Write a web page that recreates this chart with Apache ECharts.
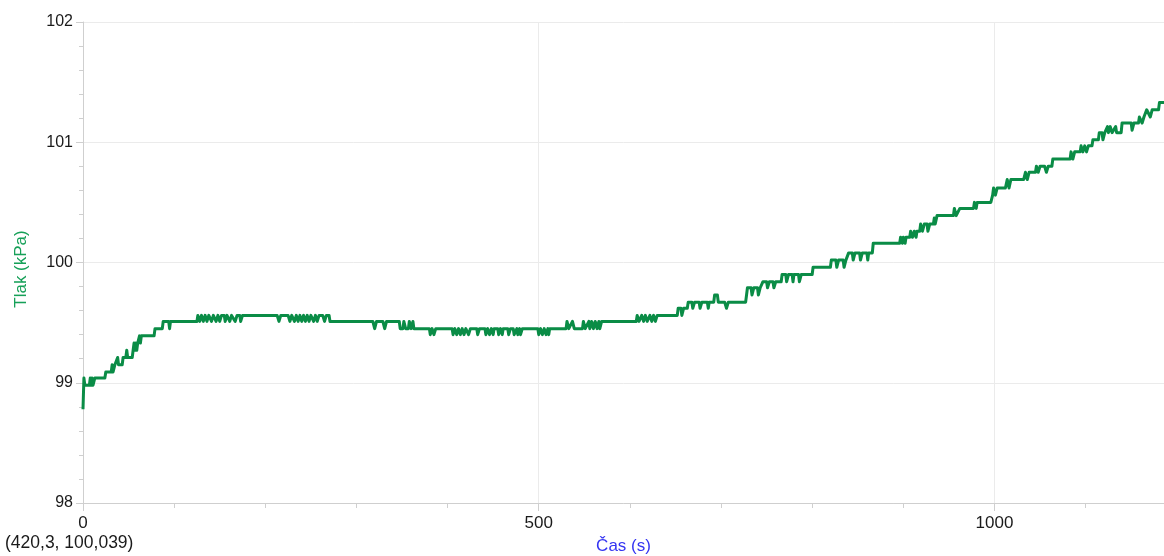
<!DOCTYPE html>
<html>
<head>
<meta charset="utf-8">
<script src="https://cdn.jsdelivr.net/npm/echarts@6/dist/echarts.min.js"></script>
<style>
  html, body { margin: 0; padding: 0; background: #fff; }
  #chart { width: 1164px; height: 556px; }
</style>
</head>
<body>
<div id="chart"></div>
<script>
// Pressure log: [time (s), pressure (kPa)]
const pressureLog = [
  [0, 98.78],[1, 99.04],[2, 98.98],[7, 98.98],[8, 99.04],[9, 98.98],[10, 99.04],[11, 98.98],[13, 99.04],[24, 99.04],
  [25, 99.09],[31, 99.09],[32, 99.15],[33, 99.09],[35, 99.15],[37, 99.15],[38, 99.21],[39, 99.15],[43, 99.15],[44, 99.21],
  [47, 99.21],[48, 99.27],[49, 99.21],[54, 99.21],[55, 99.27],[56, 99.33],[57, 99.27],[58, 99.33],[59, 99.27],[60, 99.33],
  [62, 99.39],[63, 99.33],[64, 99.39],[78, 99.39],[79, 99.45],[87, 99.45],[88, 99.51],[94, 99.51],[95, 99.45],[96, 99.51],
  [125, 99.51],[126, 99.56],[128, 99.51],[130, 99.56],[132, 99.51],[134, 99.56],[136, 99.51],[138, 99.56],[141, 99.51],[143, 99.56],
  [146, 99.51],[148, 99.56],[150, 99.51],[152, 99.56],[155, 99.56],[156, 99.51],[158, 99.56],[161, 99.51],[163, 99.56],[167, 99.51],
  [169, 99.56],[172, 99.56],[173, 99.51],[175, 99.56],[213, 99.56],[215, 99.51],[217, 99.56],[225, 99.56],[227, 99.51],[229, 99.56],
  [232, 99.51],[234, 99.56],[236, 99.51],[238, 99.56],[240, 99.51],[242, 99.56],[244, 99.51],[246, 99.56],[248, 99.51],[250, 99.56],
  [253, 99.51],[255, 99.56],[257, 99.51],[259, 99.56],[263, 99.56],[265, 99.51],[267, 99.56],[270, 99.56],[271, 99.51],
  [318, 99.51],[320, 99.45],[322, 99.51],[329, 99.51],[331, 99.45],[333, 99.51],[347, 99.51],[348, 99.45],[351, 99.45],[352, 99.51],
  [354, 99.45],[357, 99.45],[358, 99.51],[360, 99.45],[362, 99.51],[363, 99.45],
  [380, 99.45],[381, 99.40],[383, 99.45],[385, 99.40],[387, 99.45],
  [405, 99.45],[406, 99.40],[408, 99.45],[410, 99.40],[412, 99.45],[414, 99.40],[416, 99.45],[418, 99.40],[420, 99.45],
  [423, 99.40],[425, 99.45],[432, 99.45],[433, 99.40],[435, 99.45],[441, 99.45],[442, 99.40],[444, 99.45],[446, 99.40],[448, 99.45],
  [450, 99.40],[451, 99.45],[455, 99.45],[456, 99.40],[458, 99.45],[460, 99.40],[461, 99.45],[466, 99.45],[467, 99.40],[469, 99.45],
  [472, 99.45],[473, 99.40],[475, 99.40],[476, 99.45],[477, 99.40],[479, 99.45],[480, 99.40],[482, 99.45],
  [499, 99.45],[500, 99.40],[502, 99.45],[504, 99.40],[506, 99.45],[508, 99.40],[510, 99.45],[511, 99.40],[512, 99.45],
  [530, 99.45],[531, 99.51],[533, 99.45],[537, 99.51],[539, 99.45],
  [548, 99.45],[549, 99.51],[551, 99.45],[555, 99.51],[556, 99.45],[558, 99.51],[560, 99.45],[562, 99.51],[564, 99.45],[566, 99.51],
  [567, 99.45],[569, 99.51],
  [607, 99.51],[608, 99.56],[610, 99.51],[613, 99.56],[615, 99.51],[617, 99.56],[619, 99.51],[622, 99.56],[624, 99.51],[626, 99.56],
  [628, 99.51],[630, 99.56],
  [652, 99.56],[653, 99.62],[656, 99.62],[657, 99.56],[659, 99.62],[663, 99.62],[664, 99.67],[668, 99.67],[669, 99.62],[671, 99.67],
  [676, 99.67],[677, 99.62],[679, 99.67],[685, 99.67],[686, 99.62],[687, 99.67],[692, 99.67],[693, 99.73],[696, 99.73],[697, 99.67],
  [704, 99.67],[706, 99.62],[708, 99.67],[727, 99.67],[728, 99.73],[729, 99.79],[733, 99.79],[734, 99.73],[736, 99.79],[740, 99.79],
  [741, 99.73],[743, 99.79],[745, 99.79],[746, 99.84],[750, 99.84],[751, 99.79],[753, 99.84],[757, 99.84],[758, 99.79],[760, 99.84],
  [766, 99.84],[767, 99.90],[771, 99.90],[772, 99.84],[774, 99.90],[778, 99.90],[779, 99.84],[780, 99.90],[785, 99.90],[786, 99.84],
  [788, 99.90],[800, 99.90],[801, 99.96],[820, 99.96],[821, 100.02],[826, 100.02],[827, 99.96],[829, 100.02],[834, 100.02],[835, 99.96],
  [837, 100.02],[839, 100.02],[840, 100.08],[844, 100.08],[845, 100.02],[847, 100.08],[852, 100.08],[853, 100.02],[855, 100.08],[860, 100.08],
  [861, 100.02],[862, 100.08],[866, 100.08],[867, 100.16],
  [896, 100.16],[897, 100.21],[899, 100.16],[900, 100.21],[902, 100.16],[903, 100.21],[907, 100.21],[908, 100.26],[910, 100.21],[912, 100.26],
  [914, 100.21],[915, 100.26],[918, 100.26],[919, 100.32],[921, 100.26],[923, 100.32],[926, 100.32],[927, 100.26],[929, 100.32],[933, 100.32],
  [934, 100.37],[935, 100.32],[937, 100.39],[955, 100.39],[956, 100.45],[958, 100.39],[960, 100.39],[962, 100.45],[977, 100.45],[978, 100.50],
  [980, 100.45],[981, 100.50],[996, 100.50],[998, 100.56],[999, 100.62],[1001, 100.56],[1003, 100.62],[1012, 100.62],[1014, 100.69],[1016, 100.62],
  [1018, 100.69],[1032, 100.69],[1034, 100.75],[1036, 100.69],[1038, 100.75],[1045, 100.75],[1046, 100.80],[1048, 100.75],[1050, 100.80],[1055, 100.80],
  [1057, 100.75],[1059, 100.80],[1063, 100.80],[1064, 100.86],[1083, 100.86],[1084, 100.92],[1086, 100.86],[1088, 100.92],[1094, 100.92],[1095, 100.97],
  [1097, 100.92],[1099, 100.97],[1101, 100.92],[1103, 100.97],[1107, 100.97],[1108, 101.02],[1114, 101.02],[1115, 101.08],[1118, 101.08],[1119, 101.02],
  [1121, 101.08],[1124, 101.13],[1125, 101.08],[1127, 101.13],[1129, 101.08],[1131, 101.08],[1133, 101.13],[1134, 101.08],[1139, 101.08],[1140, 101.16],
  [1150, 101.16],[1151, 101.10],[1153, 101.16],[1158, 101.16],[1159, 101.21],[1162, 101.16],[1164, 101.21],[1166, 101.21],[1167, 101.27],[1171, 101.21],
  [1173, 101.27],[1180, 101.27],[1181, 101.33],[1186, 101.33]
];

const timeRange = [0, 1186];
const pressureRange = [98, 102];
const cursorReadout = '(420,3, 100,039)';
const xAxisTitle = 'Čas (s)';
const yAxisTitle = 'Tlak (kPa)';

const FONT = '"Liberation Sans", Arial, sans-serif';
const AXIS_GRAY = '#cfcfcf';
const GRID_GRAY = '#ebebeb';
const TEXT_DARK = '#1a1a1a';

const chart = echarts.init(document.getElementById('chart'), null, { renderer: 'canvas' });

chart.setOption({
  animation: false,
  backgroundColor: '#ffffff',
  grid: { left: 83, right: 0, top: 22, bottom: 53, containLabel: false, outerBoundsMode: 'none' },
  xAxis: {
    type: 'value',
    min: timeRange[0],
    max: timeRange[1],
    interval: 500,
    name: xAxisTitle,
    nameLocation: 'middle',
    nameGap: 35,
    nameTextStyle: { color: '#3434f2', fontSize: 17, fontFamily: FONT },
    axisLine: { show: true, lineStyle: { color: AXIS_GRAY, width: 1 } },
    axisTick: { show: true, length: 8, lineStyle: { color: AXIS_GRAY } },
    minorTick: { show: true, splitNumber: 5, length: 5, lineStyle: { color: AXIS_GRAY } },
    axisLabel: {
      color: TEXT_DARK, fontSize: 17, fontFamily: FONT, margin: 12, showMaxLabel: false,
      formatter: (v) => String(v)
    },
    splitLine: { show: true, lineStyle: { color: GRID_GRAY, width: 1 } },
    minorSplitLine: { show: false }
  },
  yAxis: {
    type: 'value',
    min: pressureRange[0],
    max: pressureRange[1],
    interval: 1,
    name: yAxisTitle,
    nameLocation: 'middle',
    nameGap: 53,
    nameRotate: 90,
    nameTextStyle: { color: '#16a058', fontSize: 17, fontFamily: FONT, padding: [0, 13, 0, 0] },
    axisLine: { show: true, lineStyle: { color: AXIS_GRAY, width: 1 } },
    axisTick: { show: true, length: 7, lineStyle: { color: AXIS_GRAY } },
    minorTick: { show: true, splitNumber: 5, length: 4, lineStyle: { color: AXIS_GRAY } },
    axisLabel: { color: TEXT_DARK, fontSize: 16, fontFamily: FONT, margin: 10, formatter: (v) => String(v) },
    splitLine: { show: true, lineStyle: { color: GRID_GRAY, width: 1 } }
  },
  graphic: [{
    type: 'text',
    left: 5,
    top: 534,
    style: { text: cursorReadout, fill: TEXT_DARK, font: '17.5px ' + FONT }
  }],
  series: [{
    type: 'line',
    data: pressureLog,
    showSymbol: false,
    symbol: 'none',
    clip: true,
    lineStyle: { color: '#0a8c46', width: 3, join: 'round' }
  }]
});
</script>
</body>
</html>
